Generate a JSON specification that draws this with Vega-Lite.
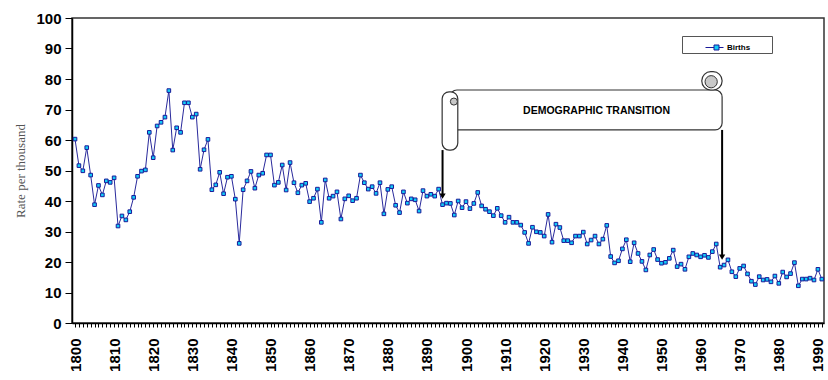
{
  "$schema": "https://vega.github.io/schema/vega-lite/v6.json",
  "width": 752,
  "height": 305,
  "autosize": {"type": "none"},
  "padding": {"left": 72, "top": 18, "right": 4, "bottom": 57},
  "background": "white",
  "config": {
    "font": "Liberation Sans",
    "view": {"stroke": "#333333", "strokeWidth": 1.5},
    "axisY": {"labelOverlap": false}
  },
  "datasets": {
    "births": [
      {"year":1800,"rate":60.3},{"year":1801,"rate":51.6},{"year":1802,"rate":49.9},{"year":1803,"rate":57.5},{"year":1804,"rate":48.5},
      {"year":1805,"rate":38.8},{"year":1806,"rate":45.1},{"year":1807,"rate":42.0},{"year":1808,"rate":46.6},{"year":1809,"rate":46.1},
      {"year":1810,"rate":47.6},{"year":1811,"rate":31.8},{"year":1812,"rate":35.1},{"year":1813,"rate":33.8},{"year":1814,"rate":36.5},
      {"year":1815,"rate":41.2},{"year":1816,"rate":48.1},{"year":1817,"rate":49.8},{"year":1818,"rate":50.2},{"year":1819,"rate":62.5},
      {"year":1820,"rate":54.2},{"year":1821,"rate":64.6},{"year":1822,"rate":65.8},{"year":1823,"rate":67.5},{"year":1824,"rate":76.2},
      {"year":1825,"rate":56.7},{"year":1826,"rate":64.0},{"year":1827,"rate":62.5},{"year":1828,"rate":72.2},{"year":1829,"rate":72.2},
      {"year":1830,"rate":67.5},{"year":1831,"rate":68.5},{"year":1832,"rate":50.4},{"year":1833,"rate":56.8},{"year":1834,"rate":60.2},
      {"year":1835,"rate":43.7},{"year":1836,"rate":45.3},{"year":1837,"rate":49.4},{"year":1838,"rate":42.4},{"year":1839,"rate":47.8},
      {"year":1840,"rate":48.1},{"year":1841,"rate":40.6},{"year":1842,"rate":26.1},{"year":1843,"rate":43.7},{"year":1844,"rate":46.6},
      {"year":1845,"rate":49.7},{"year":1846,"rate":44.2},{"year":1847,"rate":48.5},{"year":1848,"rate":49.1},{"year":1849,"rate":55.1},
      {"year":1850,"rate":55.1},{"year":1851,"rate":45.2},{"year":1852,"rate":46.1},{"year":1853,"rate":51.8},{"year":1854,"rate":43.6},
      {"year":1855,"rate":52.6},{"year":1856,"rate":46.0},{"year":1857,"rate":42.7},{"year":1858,"rate":45.2},{"year":1859,"rate":45.8},
      {"year":1860,"rate":39.8},{"year":1861,"rate":40.9},{"year":1862,"rate":43.9},{"year":1863,"rate":33.0},{"year":1864,"rate":46.9},
      {"year":1865,"rate":40.9},{"year":1866,"rate":41.6},{"year":1867,"rate":43.0},{"year":1868,"rate":34.1},{"year":1869,"rate":40.7},
      {"year":1870,"rate":41.7},{"year":1871,"rate":40.1},{"year":1872,"rate":40.9},{"year":1873,"rate":48.5},{"year":1874,"rate":46.0},
      {"year":1875,"rate":43.9},{"year":1876,"rate":44.7},{"year":1877,"rate":42.5},{"year":1878,"rate":46.0},{"year":1879,"rate":35.8},
      {"year":1880,"rate":43.8},{"year":1881,"rate":44.7},{"year":1882,"rate":38.6},{"year":1883,"rate":36.2},{"year":1884,"rate":43.0},
      {"year":1885,"rate":39.3},{"year":1886,"rate":40.7},{"year":1887,"rate":40.4},{"year":1888,"rate":36.7},{"year":1889,"rate":43.4},
      {"year":1890,"rate":41.6},{"year":1891,"rate":42.2},{"year":1892,"rate":41.6},{"year":1893,"rate":43.9},{"year":1894,"rate":38.8},
      {"year":1895,"rate":39.3},{"year":1896,"rate":39.2},{"year":1897,"rate":35.4},{"year":1898,"rate":40.0},{"year":1899,"rate":37.8},
      {"year":1900,"rate":39.8},{"year":1901,"rate":37.5},{"year":1902,"rate":39.2},{"year":1903,"rate":42.8},{"year":1904,"rate":38.4},
      {"year":1905,"rate":37.3},{"year":1906,"rate":36.5},{"year":1907,"rate":35.2},{"year":1908,"rate":37.6},{"year":1909,"rate":35.2},
      {"year":1910,"rate":33.0},{"year":1911,"rate":34.7},{"year":1912,"rate":33.0},{"year":1913,"rate":33.0},{"year":1914,"rate":32.1},
      {"year":1915,"rate":29.7},{"year":1916,"rate":26.1},{"year":1917,"rate":31.4},{"year":1918,"rate":29.9},{"year":1919,"rate":29.7},
      {"year":1920,"rate":28.5},{"year":1921,"rate":35.6},{"year":1922,"rate":26.5},{"year":1923,"rate":32.4},{"year":1924,"rate":31.3},
      {"year":1925,"rate":27.0},{"year":1926,"rate":27.0},{"year":1927,"rate":26.3},{"year":1928,"rate":28.5},{"year":1929,"rate":28.5},
      {"year":1930,"rate":29.8},{"year":1931,"rate":25.9},{"year":1932,"rate":27.2},{"year":1933,"rate":28.5},{"year":1934,"rate":25.9},
      {"year":1935,"rate":27.5},{"year":1936,"rate":32.0},{"year":1937,"rate":21.8},{"year":1938,"rate":19.7},{"year":1939,"rate":20.4},
      {"year":1940,"rate":24.3},{"year":1941,"rate":27.3},{"year":1942,"rate":20.1},{"year":1943,"rate":26.3},{"year":1944,"rate":22.8},
      {"year":1945,"rate":20.2},{"year":1946,"rate":17.4},{"year":1947,"rate":22.3},{"year":1948,"rate":24.1},{"year":1949,"rate":20.8},
      {"year":1950,"rate":19.6},{"year":1951,"rate":19.9},{"year":1952,"rate":21.2},{"year":1953,"rate":23.9},{"year":1954,"rate":18.5},
      {"year":1955,"rate":19.3},{"year":1956,"rate":17.6},{"year":1957,"rate":21.7},{"year":1958,"rate":22.8},{"year":1959,"rate":22.3},
      {"year":1960,"rate":21.7},{"year":1961,"rate":22.2},{"year":1962,"rate":21.5},{"year":1963,"rate":23.4},{"year":1964,"rate":25.9},
      {"year":1965,"rate":18.3},{"year":1966,"rate":19.0},{"year":1967,"rate":20.7},{"year":1968,"rate":16.8},{"year":1969,"rate":15.2},
      {"year":1970,"rate":17.9},{"year":1971,"rate":18.7},{"year":1972,"rate":16.1},{"year":1973,"rate":13.7},{"year":1974,"rate":12.6},
      {"year":1975,"rate":15.2},{"year":1976,"rate":14.1},{"year":1977,"rate":14.3},{"year":1978,"rate":13.5},{"year":1979,"rate":15.4},
      {"year":1980,"rate":13.0},{"year":1981,"rate":16.7},{"year":1982,"rate":15.1},{"year":1983,"rate":16.2},{"year":1984,"rate":19.8},
      {"year":1985,"rate":12.2},{"year":1986,"rate":14.4},{"year":1987,"rate":14.4},{"year":1988,"rate":14.7},{"year":1989,"rate":14.1},
      {"year":1990,"rate":17.6},{"year":1991,"rate":14.4}
    ],
    "banner": [{"x1": 1895.9, "x2": 1965.5, "y1": 63.3, "y2": 76.4}],
    "leftCurl": [{"x1": 1893.9, "x2": 1897.9, "y1": 56.7, "y2": 75.8}],
    "rightCurl": [{"x1": 1960.3, "x2": 1965.5, "y1": 76.4, "y2": 82.4}],
    "leftKnob": [{"year": 1896.9, "rate": 72.6}],
    "rightKnob": [{"year": 1962.7, "rate": 79.1}],
    "arrows": [{"year": 1894.0, "from": 56.7, "to": 41.5}, {"year": 1965.5, "from": 63.3, "to": 21.5}],
    "heads": [{"year": 1894.0, "rate": 41.6}, {"year": 1965.5, "rate": 21.6}],
    "caption": [{"year": 1933.4, "rate": 69.6, "text": "DEMOGRAPHIC TRANSITION"}]
  },
  "layer": [
    {
      "data": {"name": "births"},
      "mark": {"type": "line", "color": "#2a2a9c", "strokeWidth": 1},
      "encoding": {
        "x": {
          "field": "year", "type": "quantitative",
          "scale": {"domain": [1799.23, 1991.56], "nice": false, "zero": false},
          "axis": {
            "title": null, "tickCount": 192, "format": "d",
            "labelExpr": "datum.value % 10 === 0 ? datum.label : ''",
            "labelOverlap": false, "labelAngle": -90, "labelFontWeight": "bold",
            "labelFontSize": 15, "labelColor": "black", "labelPadding": 11,
            "tickSize": 4, "tickColor": "black", "tickWidth": 1,
            "domainColor": "black", "domainWidth": 1.5, "grid": false
          }
        },
        "y": {
          "field": "rate", "type": "quantitative",
          "scale": {"domain": [0, 100], "nice": false},
          "axis": {
            "title": "Rate per thousand", "values": [0,10,20,30,40,50,60,70,80,90,100],
            "tickCount": 11, "labelOverlap": false,
            "titleFont": "Liberation Serif", "titleFontWeight": "normal", "titleFontSize": 13,
            "titleColor": "#555555", "titlePadding": 8,
            "labelFontWeight": "bold", "labelFontSize": 15, "labelColor": "black", "labelPadding": 4,
            "tickSize": 7, "tickColor": "black", "tickWidth": 1,
            "domainColor": "black", "domainWidth": 1.5, "grid": false
          }
        }
      }
    },
    {
      "data": {"name": "births"},
      "mark": {"type": "point", "shape": "square", "filled": true, "size": 13, "stroke": "#1a1a99", "strokeWidth": 1, "opacity": 1},
      "encoding": {
        "x": {"field": "year", "type": "quantitative"},
        "y": {"field": "rate", "type": "quantitative"},
        "fill": {
          "datum": "Births", "type": "nominal",
          "scale": {"range": ["#12ccf8"]},
          "legend": {
            "title": null, "orient": "none", "legendX": 610, "legendY": 18,
            "padding": 1, "strokeColor": "#555555", "fillColor": "white",
            "symbolType": "M-0.9,0H-0.05M0.45,0H0.9M-0.05,-0.25H0.45V0.25H-0.05Z",
            "symbolSize": 400, "symbolOffset": 21, "symbolStrokeColor": "#1a1a99", "symbolStrokeWidth": 1,
            "labelOffset": 2, "labelFontSize": 8, "labelFontWeight": "bold", "labelColor": "black",
            "labelExpr": "datum.label + '\u00a0\u00a0\u00a0\u00a0\u00a0\u00a0\u00a0\u00a0\u00a0\u200b'"
          }
        }
      }
    },
    {
      "data": {"name": "banner"},
      "mark": {"type": "rect", "fill": "white", "stroke": "#333333", "strokeWidth": 1.2, "cornerRadius": 7},
      "encoding": {
        "x": {"field": "x1", "type": "quantitative"}, "x2": {"field": "x2"},
        "y": {"field": "y1", "type": "quantitative"}, "y2": {"field": "y2"}
      }
    },
    {
      "data": {"name": "rightCurl"},
      "mark": {"type": "rect", "fill": "white", "stroke": "#333333", "strokeWidth": 1.2, "cornerRadius": 9},
      "encoding": {
        "x": {"field": "x1", "type": "quantitative"}, "x2": {"field": "x2"},
        "y": {"field": "y1", "type": "quantitative"}, "y2": {"field": "y2"}
      }
    },
    {
      "data": {"name": "leftCurl"},
      "mark": {"type": "rect", "fill": "white", "stroke": "#333333", "strokeWidth": 1.2, "cornerRadius": 7},
      "encoding": {
        "x": {"field": "x1", "type": "quantitative"}, "x2": {"field": "x2"},
        "y": {"field": "y1", "type": "quantitative"}, "y2": {"field": "y2"}
      }
    },
    {
      "data": {"name": "leftKnob"},
      "mark": {"type": "point", "shape": "circle", "filled": true, "size": 50, "fill": "#c8c8c8", "stroke": "#333333", "strokeWidth": 1, "opacity": 1},
      "encoding": {"x": {"field": "year", "type": "quantitative"}, "y": {"field": "rate", "type": "quantitative"}}
    },
    {
      "data": {"name": "rightKnob"},
      "mark": {"type": "point", "shape": "circle", "filled": true, "size": 150, "fill": "#c8c8c8", "stroke": "#333333", "strokeWidth": 1, "opacity": 1},
      "encoding": {"x": {"field": "year", "type": "quantitative"}, "y": {"field": "rate", "type": "quantitative"}}
    },
    {
      "data": {"name": "arrows"},
      "mark": {"type": "rule", "color": "black", "strokeWidth": 2},
      "encoding": {
        "x": {"field": "year", "type": "quantitative"},
        "y": {"field": "from", "type": "quantitative"}, "y2": {"field": "to"}
      }
    },
    {
      "data": {"name": "heads"},
      "mark": {"type": "point", "shape": "triangle-down", "filled": true, "size": 40, "color": "black", "opacity": 1},
      "encoding": {"x": {"field": "year", "type": "quantitative"}, "y": {"field": "rate", "type": "quantitative"}}
    },
    {
      "data": {"name": "caption"},
      "mark": {"type": "text", "fontSize": 10.5, "fontWeight": "bold", "color": "black", "align": "center", "baseline": "middle"},
      "encoding": {
        "x": {"field": "year", "type": "quantitative"},
        "y": {"field": "rate", "type": "quantitative"},
        "text": {"field": "text"}
      }
    }
  ]
}
